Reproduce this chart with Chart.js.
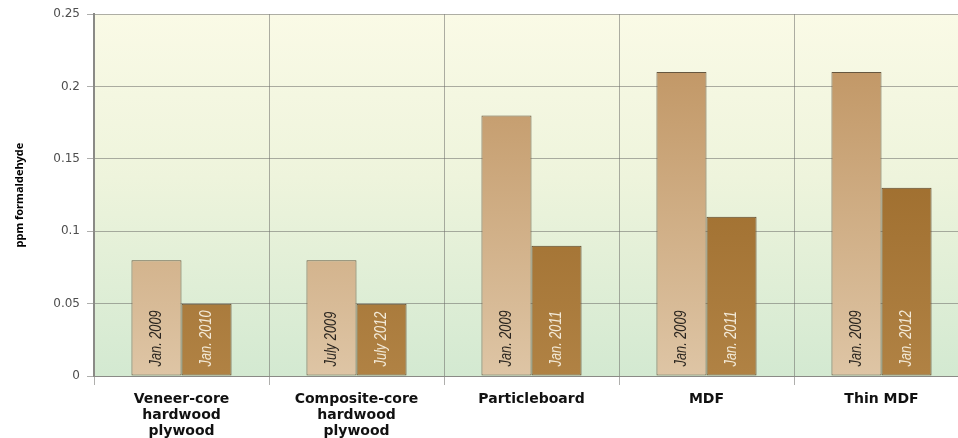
<!DOCTYPE html>
<html><head><meta charset="utf-8">
<script src="https://cdn.jsdelivr.net/npm/chart.js@4"></script>
<style>html,body{margin:0;padding:0;overflow:hidden;background:#fff}#wrap{width:970px;height:438px;position:relative}</style>
</head><body><div id="wrap"><canvas id="c"></canvas></div>
<script>
const categories = [["Veneer-core","hardwood","plywood"],["Composite-core","hardwood","plywood"],["Particleboard"],["MDF"],["Thin MDF"]];
const firstValues = [0.08, 0.08, 0.18, 0.21, 0.21];
const secondValues = [0.05, 0.05, 0.09, 0.11, 0.13];
const firstDates = ["Jan. 2009","July 2009","Jan. 2009","Jan. 2009","Jan. 2009"];
const secondDates = ["Jan. 2010","July 2012","Jan. 2011","Jan. 2011","Jan. 2012"];
const yTicks = [0, 0.05, 0.1, 0.15, 0.2, 0.25];
const yTickLabels = ["0","0.05","0.1","0.15","0.2","0.25"];
const yTitle = "ppm formaldehyde";

function grad(ctx, area, top, bottom){
  const g = ctx.createLinearGradient(0, area.top, 0, area.bottom);
  g.addColorStop(0, top); g.addColorStop(1, bottom); return g;
}

const bgPlugin = {
  id:'bg',
  beforeDraw(chart){
    const {ctx, chartArea:a} = chart;
    ctx.save();
    const g = ctx.createLinearGradient(0, a.top, 0, a.bottom);
    g.addColorStop(0, '#fafae6');
    g.addColorStop(0.45, '#eef4dc');
    g.addColorStop(1, '#d3e9d1');
    ctx.fillStyle = g;
    ctx.fillRect(a.left, a.top, a.right - a.left, a.bottom - a.top);
    ctx.restore();
  }
};

const labelPlugin = {
  id:'barLabels',
  afterDatasetsDraw(chart){
    const ctx = chart.ctx;
    const sets = [[firstDates, '#2b2620'], [secondDates, '#f3ead8']];
    sets.forEach((s, di) => {
      const meta = chart.getDatasetMeta(di);
      meta.data.forEach((el, i) => {
        ctx.save();
        ctx.translate(el.x, el.base - 9);
        ctx.rotate(-Math.PI/2);
        ctx.scale(0.8, 1);
        ctx.font = "italic 16px 'Liberation Sans', 'DejaVu Sans', sans-serif";
        ctx.fillStyle = s[1];
        ctx.textAlign = 'left';
        ctx.textBaseline = 'middle';
        ctx.fillText(s[0][i], 0, 0);
        ctx.restore();
      });
    });
  }
};

new Chart(document.getElementById('c'), {
  type:'bar',
  data:{
    labels: categories,
    datasets:[
      {data:firstValues, backgroundColor:(c)=>{const a=c.chart.chartArea; if(!a) return '#cfae84'; return grad(c.chart.ctx,a,'#bd905c','#dec5a5');},
       borderColor:'#66573f', borderWidth:1, borderSkipped:false, categoryPercentage:0.572, barPercentage:1},
      {data:secondValues, backgroundColor:(c)=>{const a=c.chart.chartArea; if(!a) return '#a97a3a'; return grad(c.chart.ctx,a,'#93601f','#b08244');},
       borderColor:'#5a452b', borderWidth:1, borderSkipped:false, categoryPercentage:0.572, barPercentage:1}
    ]
  },
  options:{
    responsive:true, maintainAspectRatio:false, animation:false,
    layout:{padding:{left:0, right:1, top:14, bottom:0}},
    plugins:{legend:{display:false}, tooltip:{enabled:false}},
    scales:{
      x:{
        grid:{color:'rgba(110,110,105,0.55)', lineWidth:1, tickLength:9, drawOnChartArea:true},
        border:{display:true, color:'#8a8a86', width:1},
        ticks:{color:'#111', font:{family:"'DejaVu Sans', sans-serif", size:14, weight:'bold', lineHeight:1.15}, padding:6, maxRotation:0, autoSkip:false},
        afterFit(s){ s.height = 62; }
      },
      y:{
        min:0, max:0.25,
        afterBuildTicks(s){ s.ticks = yTicks.map(v=>({value:v})); },
        grid:{color:'rgba(110,110,105,0.55)', lineWidth:1, tickLength:7},
        border:{display:true, color:'#8a8a86', width:2},
        ticks:{color:'#4e4e4e', font:{family:"'DejaVu Sans', sans-serif", size:12}, padding:7,
          callback:(v, i)=> yTickLabels[yTicks.indexOf(v)] ?? ''},
        title:{display:true, text:yTitle, color:'#000', font:{family:"'Open Sans', sans-serif", size:11, weight:'bold'}, padding:{top:13, bottom:0}},
        afterFit(s){ s.width = 94; }
      }
    }
  },
  plugins:[bgPlugin, labelPlugin]
});
</script></body></html>
